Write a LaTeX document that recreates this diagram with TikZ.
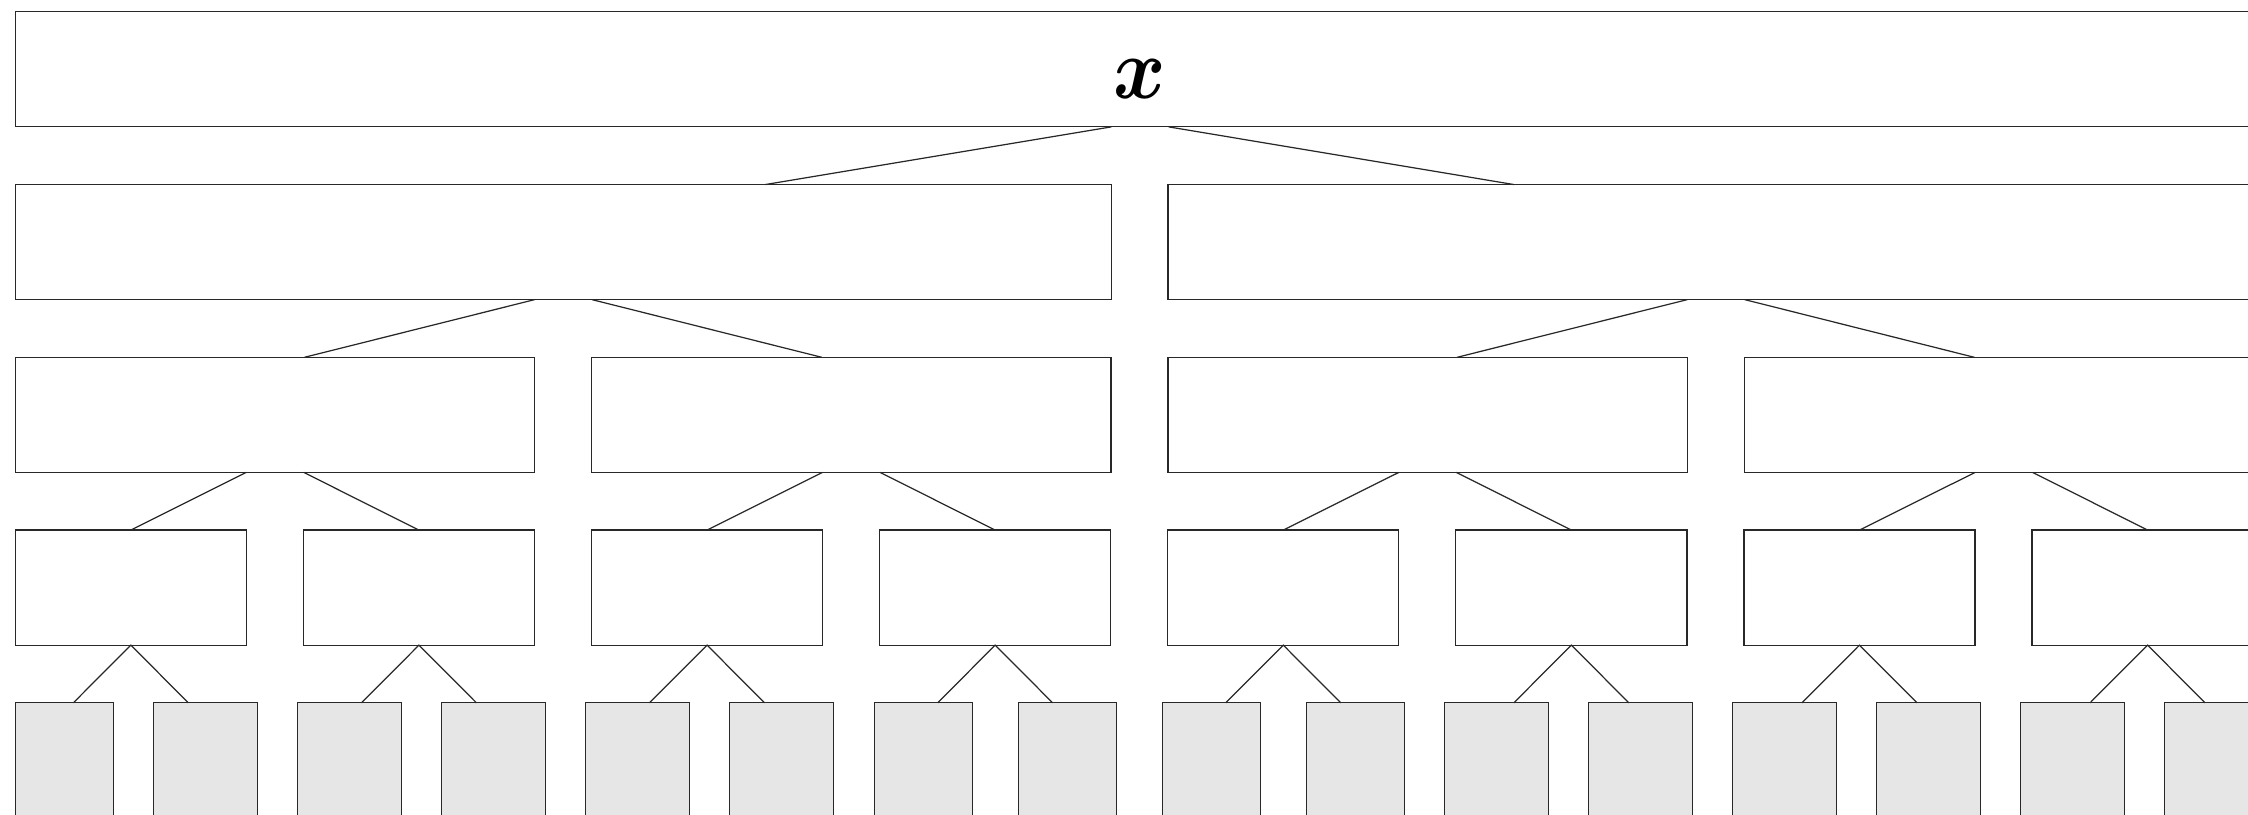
\documentclass[tikz,border=0pt]{standalone}
\usepackage{bm}
\usepackage{graphicx}
\usetikzlibrary{calc}
\definecolor{leafgray}{RGB}{230,230,230}
\definecolor{edgegray}{RGB}{40,40,40}
\tikzset{
  box/.style={draw=edgegray, line width=0.35pt, fill=white, inner sep=0pt, outer sep=0pt,
              anchor=north west, minimum height=1.15cm},
  leaf/.style={box, fill=leafgray},
  link/.style={draw=edgegray, line width=0.35pt}
}
\begin{document}
\begin{tikzpicture}[x=0.01cm, y=-0.01cm]
\useasboundingbox (0,0) rectangle (2248,814);
\clip (0,0) rectangle (2248,814);
% row 1
\node[box, minimum width=22.48cm, text height=0.59cm, text depth=0pt]
  (r1) at (15.3,11.8) {\scalebox{0.91}[1]{\fontsize{24.88}{30}\selectfont$\bm{x}$}};
% row 2
\node[box, minimum width=10.954cm] (r2a) at (15.3,184.55) {};
\node[box, minimum width=10.954cm] (r2b) at (1168,184.55) {};
% row 3
\node[box, minimum width=5.19cm] (r3a) at (15.3,357.3) {};
\node[box, minimum width=5.19cm] (r3b) at (591.6,357.3) {};
\node[box, minimum width=5.19cm] (r3c) at (1167.9,357.3) {};
\node[box, minimum width=5.19cm] (r3d) at (1744.2,357.3) {};
% row 4
\foreach \n/\xx in {a/15.3, b/303.4, c/591.5, d/879.6, e/1167.7, f/1455.8, g/1743.9, h/2032}
  \node[box, minimum width=2.31cm] (r4\n) at (\xx,530.05) {};
% row 5 (leaves)
\foreach \n/\xx/\w in {a/15.3/0.984, b/153.7/1.04, c/297.7/1.04, d/441.7/1.04,
                       e/585.8/1.04, f/729.8/1.04, g/874.2/0.98, h/1018.3/0.98,
                       i/1162.3/0.98, j/1306.3/0.98, k/1444.4/1.04, l/1588.6/1.04,
                       m/1732.7/1.04, n/1876.7/1.04, o/2020.7/1.04, p/2164.7/1.04}
  \node[leaf, minimum width=\w cm] (r5\n) at (\xx,702.8) {};
% connectors row 1 -> row 2
\draw[link] ($(r1.south)+(-28.7,0)$) -- ($(r2a.north)+(202,0)$);
\draw[link] ($(r1.south)+(28.7,0)$) -- ($(r2b.north)+(-202,0)$);
% connectors row 2 -> row 3
\draw[link] ($(r2a.south)+(-28.7,0)$) -- ($(r3a.north)+(29.5,0)$);
\draw[link] ($(r2a.south)+(28.7,0)$) -- ($(r3b.north)+(-29.5,0)$);
\draw[link] ($(r2b.south)+(-28.7,0)$) -- ($(r3c.north)+(29.5,0)$);
\draw[link] ($(r2b.south)+(28.7,0)$) -- ($(r3d.north)+(-29.5,0)$);
% connectors row 3 -> row 4
\draw[link] ($(r3a.south)+(-28.7,0)$) -- (r4a.north);
\draw[link] ($(r3a.south)+(28.7,0)$) -- (r4b.north);
\draw[link] ($(r3b.south)+(-28.7,0)$) -- (r4c.north);
\draw[link] ($(r3b.south)+(28.7,0)$) -- (r4d.north);
\draw[link] ($(r3c.south)+(-28.7,0)$) -- (r4e.north);
\draw[link] ($(r3c.south)+(28.7,0)$) -- (r4f.north);
\draw[link] ($(r3d.south)+(-28.7,0)$) -- (r4g.north);
\draw[link] ($(r3d.south)+(28.7,0)$) -- (r4h.north);
% connectors row 4 -> row 5
\foreach \p/\l/\dl/\r/\dr in {a/a/8.8/b/-17.4, b/c/11.7/d/-17.3, c/e/11.7/f/-17.3,
                              d/g/14.4/h/-14.7, e/i/14.4/j/-14.6, f/k/17.4/l/-11.8,
                              g/m/17.2/n/-11.8, h/o/17.3/p/-11.7}{
  \draw[link] ($(r5\l.north)+(\dl,0)$) -- (r4\p.south) -- ($(r5\r.north)+(\dr,0)$);
}
\end{tikzpicture}
\end{document}
